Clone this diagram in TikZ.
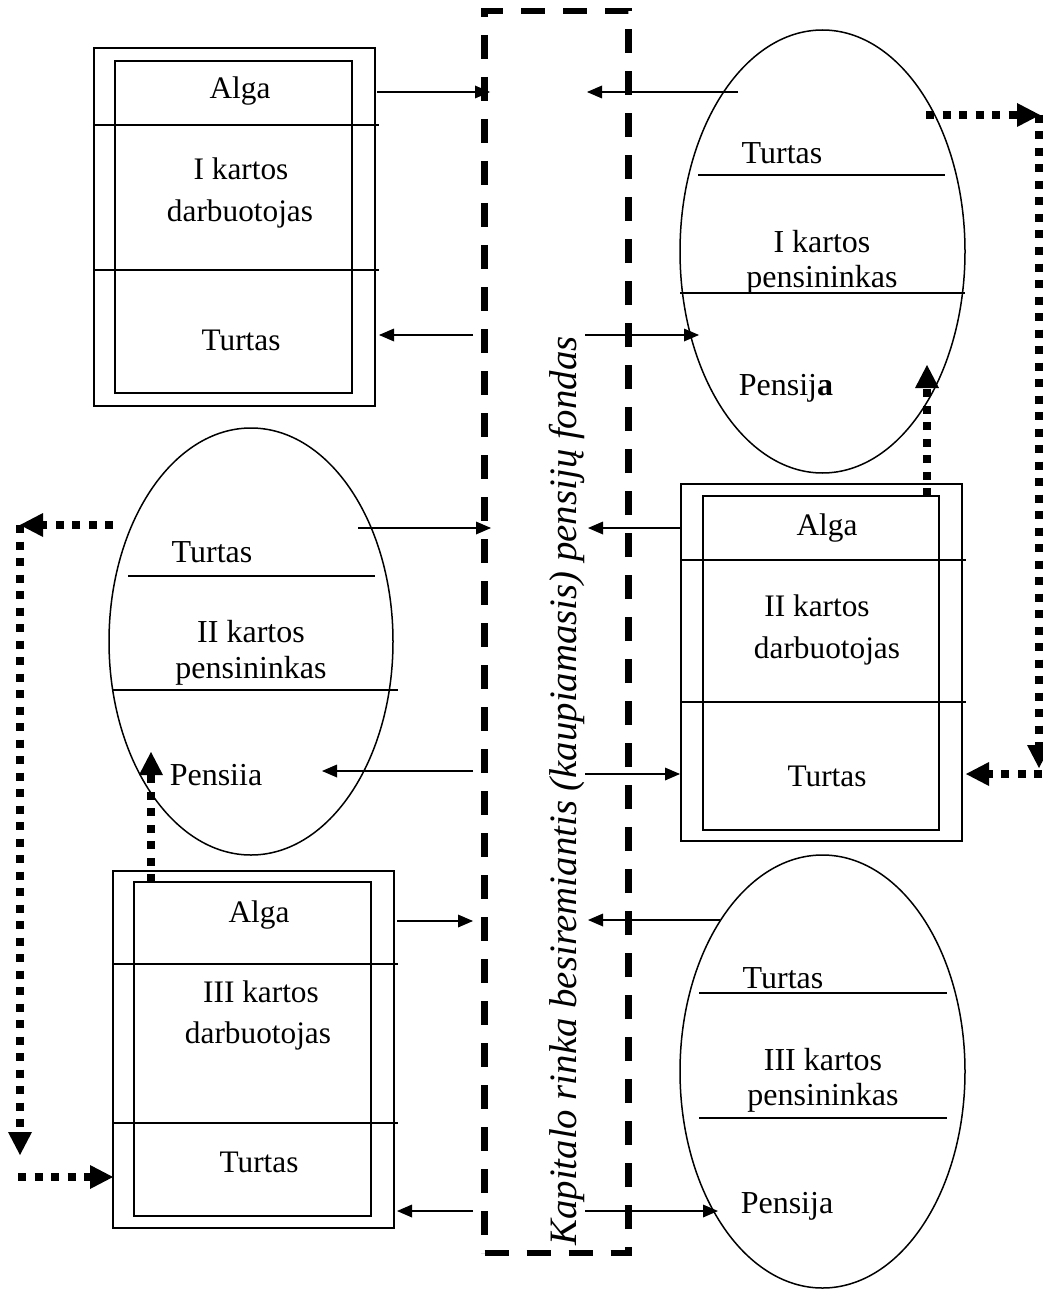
\documentclass[tikz,border=0pt]{standalone}
\usepackage{fontspec}
\setmainfont{Liberation Serif}
\usetikzlibrary{shapes.geometric,arrows.meta}
\begin{document}
\begin{tikzpicture}[x=1pt,y=-1pt,
  lbl/.style={font=\fontsize{31.3}{33}\selectfont, inner sep=0pt, anchor=base},
  elbl/.style={font=\fontsize{32}{34}\selectfont, inner sep=0pt, anchor=base},
  boxframe/.style={draw, line width=1.6pt, inner sep=0pt, rectangle},
  egg/.style={draw, ellipse, line width=1.5pt, inner sep=0pt},
  sepline/.style={line width=1.4pt},
  flow/.style={line width=1.7pt, -{Triangle[length=15pt,width=13pt,line width=0pt]}},
  dotflow/.style={line width=8pt, dash pattern=on 8pt off 8.5pt, -{Triangle[length=23pt,width=24pt,line width=0pt]}},
  fundbox/.style={draw, line width=6.5pt, dash pattern=on 24pt off 18pt, inner sep=0pt, rectangle},
]
\useasboundingbox (0,0) rectangle (1042,1289);

% central dashed fund
\node[fundbox, minimum width=144pt, minimum height=1242pt] (fund) at (556.5,632) {};
\node[rotate=90, anchor=base, inner sep=0pt, font=\fontsize{38.8}{40}\selectfont\itshape] (fundlabel) at (576,791) {Kapitalo rinka besiremiantis (kaupiamasis) pensijų fondas};

% ---- Box 1: I kartos darbuotojas
\node[boxframe, minimum width=281pt, minimum height=358pt] (b1out) at (234.5,227) {};
\node[boxframe, minimum width=237pt, minimum height=332pt] (b1in) at (233.5,227) {};
\coordinate (b1l1a) at (94,125); \coordinate (b1l1b) at (379,125);
\coordinate (b1l2a) at (94,270); \coordinate (b1l2b) at (379,270);
\draw[sepline] (b1l1a) -- (b1l1b);
\draw[sepline] (b1l2a) -- (b1l2b);
\node[lbl] (b1alga) at (240,99) {Alga};
\node[lbl] (b1t1) at (241,180) {I kartos};
\node[lbl] (b1t2) at (240,222) {darbuotojas};
\node[lbl] (b1turtas) at (241,350) {Turtas};

% ---- Box 2: II kartos darbuotojas
\node[boxframe, minimum width=281pt, minimum height=357pt] (b2out) at (821.5,662.5) {};
\node[boxframe, minimum width=236pt, minimum height=334pt] (b2in) at (821,663) {};
\coordinate (b2l1a) at (681,560); \coordinate (b2l1b) at (966,560);
\coordinate (b2l2a) at (681,702); \coordinate (b2l2b) at (966,702);
\draw[sepline] (b2l1a) -- (b2l1b);
\draw[sepline] (b2l2a) -- (b2l2b);
\node[lbl] (b2alga) at (827,535) {Alga};
\node[lbl] (b2t1) at (817,616) {II kartos};
\node[lbl] (b2t2) at (827,658) {darbuotojas};
\node[lbl] (b2turtas) at (827,786) {Turtas};

% ---- Box 3: III kartos darbuotojas
\node[boxframe, minimum width=281pt, minimum height=357pt] (b3out) at (253.5,1049.5) {};
\node[boxframe, minimum width=237pt, minimum height=334pt] (b3in) at (252.5,1049) {};
\coordinate (b3l1a) at (113,964); \coordinate (b3l1b) at (398,964);
\coordinate (b3l2a) at (113,1123); \coordinate (b3l2b) at (398,1123);
\draw[sepline] (b3l1a) -- (b3l1b);
\draw[sepline] (b3l2a) -- (b3l2b);
\node[lbl] (b3alga) at (259,922) {Alga};
\node[lbl] (b3t1) at (261,1002) {III kartos};
\node[lbl] (b3t2) at (258,1043) {darbuotojas};
\node[lbl] (b3turtas) at (259,1172) {Turtas};

% ---- Ellipse 1: I kartos pensininkas
\node[egg, minimum width=285pt, minimum height=443pt] (e1) at (822.5,251.5) {};
\coordinate (e1l1a) at (698,175); \coordinate (e1l1b) at (945,175);
\coordinate (e1l2a) at (680,293); \coordinate (e1l2b) at (965,293);
\draw[sepline] (e1l1a) -- (e1l1b);
\draw[sepline] (e1l2a) -- (e1l2b);
\node[elbl] (e1turtas) at (782,164) {Turtas};
\node[elbl] (e1t1) at (822,252) {I kartos};
\node[elbl] (e1t2) at (822,287) {pensininkas};
\node[elbl] (e1pensija) at (786,395) {Pensij\textbf{a}};

% ---- Ellipse 2: II kartos pensininkas
\node[egg, minimum width=284pt, minimum height=427pt] (e2) at (251,641.5) {};
\coordinate (e2l1a) at (128,576); \coordinate (e2l1b) at (375,576);
\coordinate (e2l2a) at (113,690); \coordinate (e2l2b) at (398,690);
\draw[sepline] (e2l1a) -- (e2l1b);
\draw[sepline] (e2l2a) -- (e2l2b);
\node[elbl] (e2turtas) at (212,562) {Turtas};
\node[elbl] (e2t1) at (251,642) {II kartos};
\node[elbl] (e2t2) at (251,678) {pensininkas};
\node[elbl] (e2pensija) at (216,785) {Pensiia};

% ---- Ellipse 3: III kartos pensininkas
\node[egg, minimum width=285pt, minimum height=433pt] (e3) at (822.5,1071.5) {};
\coordinate (e3l1a) at (699,993); \coordinate (e3l1b) at (947,993);
\coordinate (e3l2a) at (699,1118); \coordinate (e3l2b) at (947,1118);
\draw[sepline] (e3l1a) -- (e3l1b);
\draw[sepline] (e3l2a) -- (e3l2b);
\node[elbl] (e3turtas) at (783,988) {Turtas};
\node[elbl] (e3t1) at (823,1070) {III kartos};
\node[elbl] (e3t2) at (823,1105) {pensininkas};
\node[elbl] (e3pensija) at (787,1213) {Pensija};

% ---- solid flows (free ends as named coordinates)
\coordinate (f1s) at (377,92);   \coordinate (f1e) at (490,92);
\coordinate (f2s) at (473,335);  \coordinate (f2e) at (379,335);
\coordinate (f3s) at (738,92);   \coordinate (f3e) at (587,92);
\coordinate (f4s) at (585,335);  \coordinate (f4e) at (699,335);
\coordinate (f5s) at (358,528);  \coordinate (f5e) at (491,528);
\coordinate (f6s) at (473,771);  \coordinate (f6e) at (322,771);
\coordinate (f7s) at (681,528);  \coordinate (f7e) at (588,528);
\coordinate (f8s) at (585,774);  \coordinate (f8e) at (680,774);
\coordinate (f9s) at (397,921);  \coordinate (f9e) at (473,921);
\coordinate (f10s) at (473,1211); \coordinate (f10e) at (397,1211);
\coordinate (f11s) at (720,920); \coordinate (f11e) at (588,920);
\coordinate (f12s) at (585,1211); \coordinate (f12e) at (718,1211);
\foreach \i in {1,...,12} { \draw[flow] (f\i s) -- (f\i e); }

% ---- dotted flows, right side
\coordinate (r1) at (926,115);  \coordinate (r2) at (1040,115);
\coordinate (r3) at (1039,115); \coordinate (r4) at (1039,768);
\coordinate (r5) at (1042,774); \coordinate (r6) at (966,774);
\draw[dotflow] (r1) -- (r2);
\draw[dotflow] (r3) -- (r4);
\draw[dotflow] (r5) -- (r6);
\coordinate (u1s) at (927,496); \coordinate (u1e) at (927,365);
\draw[dotflow] (u1s) -- (u1e);

% ---- dotted flows, left side
\coordinate (l1) at (113,525);  \coordinate (l2) at (20,525);
\coordinate (l3) at (20,525);   \coordinate (l4) at (20,1155);
\coordinate (l5) at (18,1177);  \coordinate (l6) at (113,1177);
\draw[dotflow] (l1) -- (l2);
\draw[dotflow] (l3) -- (l4);
\draw[dotflow] (l5) -- (l6);
\coordinate (u2s) at (151,882); \coordinate (u2e) at (151,752);
\draw[dotflow] (u2s) -- (u2e);
\end{tikzpicture}
\end{document}
